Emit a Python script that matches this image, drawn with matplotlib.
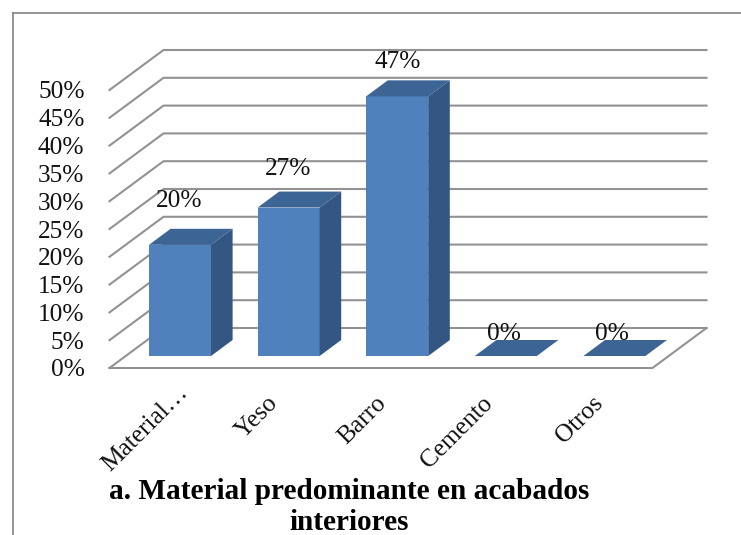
import matplotlib
matplotlib.use("Agg")
import matplotlib.pyplot as plt
from matplotlib.lines import Line2D
from matplotlib.patches import Polygon
import numpy as np

plt.rcParams['font.family'] = ['Liberation Serif', 'DejaVu Serif']

categories = ["Material…", "Yeso", "Barro", "Cemento", "Otros"]
values = [20.0, 26.7, 46.7, 0.0, 0.0]
value_labels = ["20%", "27%", "47%", "0%", "0%"]
y_ticks = [0, 5, 10, 15, 20, 25, 30, 35, 40, 45, 50]
title = "a. Material predominante en acabados\ninteriores"

W, H = 741, 535
fig = plt.figure(figsize=(W / 100, H / 100), dpi=100)
fig.patch.set_facecolor('white')

# axes rectangle = front plane of the 3-D box (pixel geometry of the reference)
L, R, T, B = 109.5, 652.5, 90.0, 368.0
ax = fig.add_axes([L / W, 1 - B / H, (R - L) / W, (B - T) / H])
ax.set_xlim(-0.5, 4.5)
ax.set_ylim(0, 50)
ax.patch.set_visible(False)
for s in ax.spines.values():
    s.set_visible(False)

DX = 54 / ((R - L) / 5)      # depth shift in category units
DY = 40 / ((B - T) / 50)     # depth shift in percent units
BAR_W = 0.571
D0, D1 = 0.30, 0.70

def proj(x, v, d):
    return (x + d * DX, v + d * DY)

GRID = '#929292'
LW = 1.5
for v in y_ticks:
    p0 = proj(-0.5, v, 0)
    p1 = proj(-0.5, v, 1)
    p2 = proj(4.5, v, 1)
    ax.plot([p0[0], p1[0], p2[0]], [p0[1], p1[1], p2[1]], color=GRID, lw=LW,
            clip_on=False, zorder=1, solid_joinstyle='miter')
# floor
f = [proj(-0.5, 0, 0), proj(4.5, 0, 0), proj(4.5, 0, 1)]
ax.plot(*zip(*f), color=GRID, lw=LW, clip_on=False, zorder=1)

FRONT, SIDE, TOP = '#4F81BD', '#335682', '#3C6494'
centers = np.arange(len(categories))
for i, v in zip(centers, values):
    a, b = i - BAR_W / 2, i + BAR_W / 2
    if v > 0:
        ax.add_patch(Polygon([proj(a, 0, D0), proj(b, 0, D0), proj(b, v, D0), proj(a, v, D0)],
                             closed=True, fc=FRONT, ec='none', clip_on=False, zorder=3))
        ax.add_patch(Polygon([proj(b, 0, D0), proj(b, 0, D1), proj(b, v, D1), proj(b, v, D0)],
                             closed=True, fc=SIDE, ec='none', clip_on=False, zorder=3))
    ax.add_patch(Polygon([proj(a, v, D0), proj(b, v, D0), proj(b, v, D1), proj(a, v, D1)],
                         closed=True, fc=TOP, ec='none', clip_on=False, zorder=3))

# data labels (pixel offsets from the bar's front top edge)
label_offsets = [(-1, 44), (-1, 39), (0, 34), (-2, 22), (-2, 22)]
for i, v, t, (ox, oy) in zip(centers, values, value_labels, label_offsets):
    x, y = proj(i, v, D0)
    ax.annotate(t, (x, y), xytext=(ox * 0.72, oy * 0.72), textcoords='offset points',
                ha='center', va='center', fontsize=18.3, color='#111111', zorder=5,
                annotation_clip=False)

# axes ticks
ax.set_yticks(y_ticks)
ax.set_yticklabels([f"{v}%" for v in y_ticks], fontsize=18.3, color='#111111')
ax.tick_params(axis='y', length=0, pad=18)
ax.set_xticks([])

# rotated category labels
cat_offsets = [(13, -13), (-6, -24), (-6, -24), (-8, -24), (-6, -24)]
for i, t, (ox, oy) in zip(centers, categories, cat_offsets):
    ax.annotate(t, (i, 0), xytext=(ox * 0.72, oy * 0.72), textcoords='offset points',
                rotation=45, rotation_mode='anchor', ha='right', va='top',
                fontsize=18.3, color='#111111', annotation_clip=False)

# title
fig.text(349 / W, 1 - 507 / H, title, ha='center', va='center', fontsize=21.1,
         fontweight='bold', color='#000000', linespacing=1.15)

# outer frame: open at right and bottom
fr = dict(color='#8C8C8C', lw=1.3, transform=fig.transFigure)
fig.add_artist(Line2D([12.5 / W, 12.5 / W], [0, 1 - 12.5 / H], **fr))
fig.add_artist(Line2D([12.5 / W, 1], [1 - 12.5 / H, 1 - 12.5 / H], **fr))

fig.savefig('out.png', dpi=100)
